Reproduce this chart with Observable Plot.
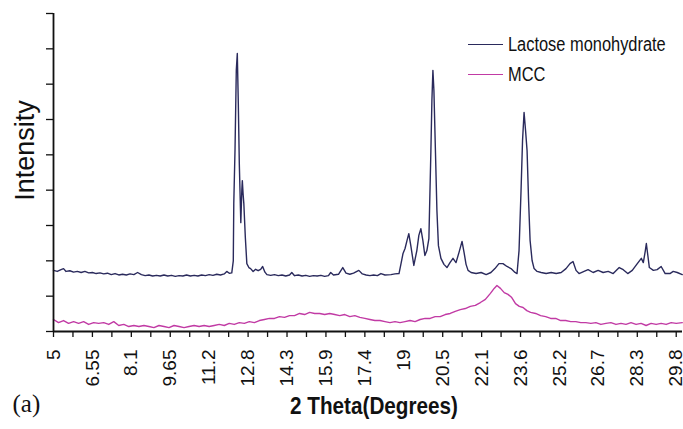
<!DOCTYPE html>
<html><head><meta charset="utf-8">
<script src="https://cdn.jsdelivr.net/npm/d3@7"></script>
<script src="https://cdn.jsdelivr.net/npm/@observablehq/plot@0.6"></script>
<style>
body{margin:0;background:#fff;}
#wrap{position:relative;width:683px;height:429px;font-family:"Liberation Sans",Arial,sans-serif;color:#111;}
.leg{position:absolute;left:468px;height:20px;display:flex;align-items:center;font-size:20px;white-space:nowrap}
.leg .sw{width:35px;height:0;border-top:1.5px solid;margin-right:5px}
.leg .t{display:inline-block;transform:scaleX(0.82);transform-origin:left center}
</style></head><body><div id="wrap"></div>
<script>
const seriesNames = ["Lactose monohydrate", "MCC"];
const seriesColors = ["#2a2a5c", "#c13aa4"];

const lacTheta = [5.00,5.15,5.30,5.40,5.50,5.65,5.80,5.95,6.10,6.25,6.40,6.55,6.70,6.85,7.00,7.15,7.30,7.45,7.60,7.75,7.90,8.05,8.20,8.35,8.50,8.65,8.80,8.95,9.10,9.25,9.40,9.55,9.70,9.85,10.00,10.15,10.30,10.45,10.60,10.75,10.90,11.05,11.20,11.35,11.50,11.65,11.80,11.90,12.00,12.10,12.16,12.18,12.23,12.28,12.32,12.36,12.40,12.46,12.50,12.52,12.55,12.58,12.64,12.70,12.78,12.85,12.95,13.05,13.15,13.25,13.33,13.42,13.50,13.65,13.80,13.95,14.10,14.25,14.40,14.49,14.60,14.75,14.90,15.05,15.20,15.35,15.50,15.65,15.80,15.95,16.04,16.15,16.35,16.52,16.65,16.80,16.95,17.16,17.30,17.45,17.60,17.75,17.90,18.04,18.20,18.44,18.60,18.76,18.84,18.92,19.00,19.08,19.15,19.23,19.35,19.47,19.55,19.63,19.71,19.79,19.87,19.95,20.03,20.07,20.11,20.15,20.21,20.27,20.33,20.43,20.55,20.67,20.79,20.91,21.03,21.15,21.27,21.35,21.43,21.51,21.63,21.83,22.03,22.23,22.42,22.58,22.74,22.90,23.06,23.22,23.38,23.46,23.54,23.62,23.68,23.74,23.80,23.86,23.92,23.98,24.06,24.14,24.26,24.42,24.62,24.82,25.02,25.22,25.41,25.57,25.69,25.81,25.93,26.13,26.29,26.49,26.69,26.89,27.09,27.29,27.53,27.69,27.87,28.05,28.25,28.41,28.49,28.57,28.61,28.67,28.73,28.89,29.04,29.20,29.36,29.55,29.68,29.84,30.04];
const lacIntensity = [173,170,175,178,170,172,168,170,167,170,166,167,164,166,163,165,161,164,160,162,160,163,161,167,161,158,160,157,159,157,160,157,159,156,158,157,160,157,159,157,160,158,161,159,162,160,163,170,165,166,200,362,518,739,787,645,475,308,400,427,390,362,266,192,181,178,170,176,172,176,184,168,161,159,161,158,160,157,160,167,158,160,157,159,156,158,157,159,156,158,167,160,162,181,165,162,165,173,163,160,158,160,158,164,160,161,163,164,192,221,235,258,277,243,187,229,272,291,258,215,229,263,512,654,739,682,512,342,243,207,190,181,195,207,195,224,255,224,190,173,167,164,167,161,167,178,192,192,184,178,167,164,229,399,541,620,569,512,371,258,201,178,170,167,164,167,164,167,178,192,198,173,164,170,175,167,173,167,170,164,181,175,164,173,192,207,195,229,249,215,181,173,175,184,164,164,170,167,161];

const mccTheta = [5.0,5.2,5.4,5.6,5.8,6.0,6.2,6.4,6.6,6.8,7.0,7.2,7.4,7.6,7.8,8.0,8.2,8.4,8.6,8.8,9.0,9.2,9.4,9.6,9.8,10.0,10.2,10.4,10.6,10.8,11.0,11.2,11.4,11.6,11.8,12.0,12.2,12.4,12.6,12.8,13.0,13.2,13.4,13.6,13.8,14.0,14.2,14.4,14.6,14.8,15.0,15.2,15.4,15.6,15.8,16.0,16.2,16.4,16.6,16.8,17.0,17.2,17.4,17.6,17.8,18.0,18.2,18.4,18.6,18.8,19.0,19.2,19.4,19.6,19.8,20.0,20.2,20.4,20.6,20.8,21.0,21.2,21.4,21.6,21.8,22.0,22.2,22.4,22.55,22.66,22.8,22.95,23.1,23.25,23.4,23.55,23.7,23.85,24.0,24.2,24.4,24.6,24.8,25.0,25.2,25.4,25.6,25.8,26.0,26.2,26.4,26.6,26.8,27.0,27.2,27.4,27.6,27.8,28.0,28.2,28.4,28.6,28.8,29.0,29.2,29.4,29.6,29.8,30.04];
const mccIntensity = [34,25,31,23,28,23,28,20,25,23,25,20,28,17,20,14,17,14,17,14,11,17,14,11,17,14,11,14,17,14,17,14,17,20,17,23,20,25,23,28,25,31,34,37,37,42,40,45,45,51,48,54,51,51,48,51,48,45,48,42,45,40,37,34,31,31,28,25,28,25,28,31,28,34,37,37,42,42,48,51,57,62,65,71,74,82,91,108,122,130,122,110,105,96,79,71,68,59,54,51,45,42,37,37,31,31,28,28,25,25,23,25,20,23,25,20,23,20,25,20,23,17,23,20,23,20,25,23,25];

const xTickValues = [5, 6.55, 8.1, 9.65, 11.2, 12.75, 14.3, 15.85, 17.4, 18.95, 20.5, 22.05, 23.6, 25.15, 26.7, 28.25, 29.8];
const xTickLabels = ["5","6.55","8.1","9.65","11.2","12.8","14.3","15.9","17.4","19","20.5","22.1","23.6","25.2","26.7","28.3","29.8"];
const yTickValues = [0,100,200,300,400,500,600,700,800,900];

const xLabel = "2 Theta(Degrees)";
const yLabel = "Intensity";
const panelLabel = "(a)";

const data = [
  ...lacTheta.map((t, i) => ({theta: t, intensity: lacIntensity[i], series: seriesNames[0]})),
  ...mccTheta.map((t, i) => ({theta: t, intensity: mccIntensity[i], series: seriesNames[1]}))
];
const minorTicks = d3.pairs(xTickValues).map(([a, b]) => (a + b) / 2);
const labelOf = new Map(xTickValues.map((v, i) => [v, xTickLabels[i]]));

const chart = Plot.plot({
  width: 683, height: 429,
  marginLeft: 53, marginRight: 1, marginTop: 13, marginBottom: 98,
  style: {fontFamily: "'Liberation Sans', Arial, sans-serif", color: "#111", background: "white", overflow: "visible"},
  x: {domain: [5, 30.05]},
  y: {domain: [0, 900]},
  color: {domain: seriesNames, range: seriesColors},
  marks: [
    Plot.line(data, {x: "theta", y: "intensity", z: "series", stroke: "series", strokeWidth: 1.4}),
    Plot.axisX({ticks: [...xTickValues, ...minorTicks], tickFormat: d => labelOf.get(d) ?? "", tickRotate: -90, tickSize: 6, tickPadding: 12, fontSize: 19, label: null, strokeWidth: 1.3}),
    Plot.axisY({ticks: yTickValues, tickFormat: () => "", tickSize: 7, label: null, strokeWidth: 1.3}),
    Plot.ruleX([5], {stroke: "#111", strokeWidth: 1.8}),
    Plot.ruleY([0], {stroke: "#111", strokeWidth: 1.8}),
    Plot.text([xLabel], {text: d => d, frameAnchor: "bottom", dx: 6, dy: 82, fontSize: 24, fontWeight: "bold", fill: "#111"}),
    Plot.text([yLabel], {text: d => d, frameAnchor: "left", textAnchor: "middle", dx: -28, dy: -22, rotate: -90, fontSize: 27, fill: "#111"}),
    Plot.text([panelLabel], {text: d => d, frameAnchor: "bottom-left", dx: -41, dy: 80, textAnchor: "start", fontFamily: "'Liberation Serif', 'Times New Roman', serif", fontSize: 25, fill: "#111"})
  ]
});
for (const t of chart.querySelectorAll("text")) {
  if (t.textContent === xLabel) { t.setAttribute("textLength", 168); t.setAttribute("lengthAdjust", "spacingAndGlyphs"); }
}
const wrap = document.getElementById("wrap");
wrap.appendChild(chart);
seriesNames.forEach((name, i) => {
  const row = document.createElement("div");
  row.className = "leg";
  row.style.top = (34 + i * 30) + "px";
  row.innerHTML = `<div class="sw" style="border-color:${seriesColors[i]}"></div><span class="t">${name}</span>`;
  wrap.appendChild(row);
});
</script>
</body></html>
